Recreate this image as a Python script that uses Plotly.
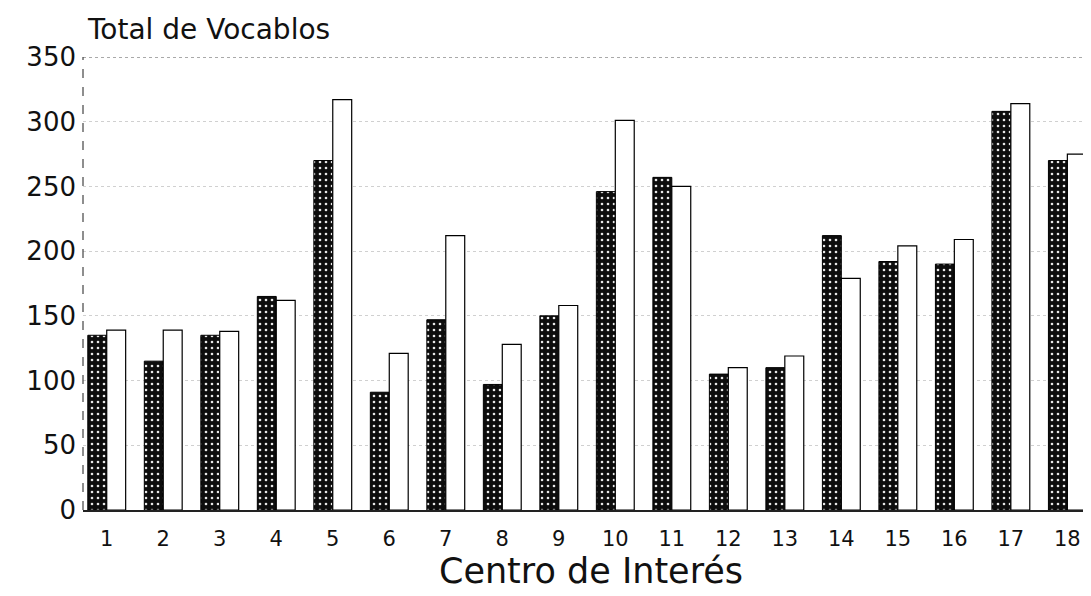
import plotly.graph_objects as go

categories = [str(i) for i in range(1, 19)]
serie_oscura = [135, 115, 135, 165, 270, 91, 147, 97, 150, 246, 257, 105, 110, 212, 192, 190, 308, 270]
serie_blanca = [139, 139, 138, 162, 317, 121, 212, 128, 158, 301, 250, 110, 119, 179, 204, 209, 314, 275]
y_ticks = [0, 50, 100, 150, 200, 250, 300, 350]
y_max = 350

FONT = "DejaVu Sans, Liberation Sans, sans-serif"

fig = go.Figure()
fig.add_trace(go.Bar(
    x=categories, y=serie_oscura, name="A",
    marker=dict(color="#0d0d0d", line=dict(color="#000000", width=1),
                pattern=dict(shape=".", fgcolor="#e8e8e8", bgcolor="#0d0d0d",
                             size=6, solidity=0.15, fillmode="replace")),
))
fig.add_trace(go.Bar(
    x=categories, y=serie_blanca, name="B",
    marker=dict(color="#ffffff", line=dict(color="#000000", width=1.2)),
))

fig.update_layout(
    width=1091, height=596,
    margin=dict(l=75, r=0, t=49, b=94),
    paper_bgcolor="white", plot_bgcolor="white",
    barmode="group", bargap=0.33, bargroupgap=0,
    showlegend=False,
    font=dict(family=FONT, color="#111111"),
    xaxis=dict(
        type="category", range=[-0.42, 17.56],
        showgrid=False, showline=True, linecolor="#222222", linewidth=1.5,
        ticks="", tickfont=dict(size=21, family=FONT, color="#111111"),
        ticklabelstandoff=9,
        title=dict(text="Centro de Interés", font=dict(size=35, family=FONT, color="#111111"),
                   standoff=0),
    ),
    yaxis=dict(
        range=[0, y_max], tickvals=y_ticks, ticktext=[str(v) for v in y_ticks],
        showgrid=True, gridcolor="#d0d0d0", griddash="dot", gridwidth=1,
        showline=False, zeroline=False, ticks="",
        tickfont=dict(size=26, family=FONT, color="#111111"),
        ticklabelstandoff=6,
    ),
    shapes=[
        dict(type="line", xref="paper", yref="y", x0=0, x1=1, y0=y_max, y1=y_max,
             line=dict(color="#555555", width=1.2, dash="dot")),
        dict(type="line", xref="paper", yref="paper", x0=0, x1=0, y0=0, y1=1,
             line=dict(color="#444444", width=1.2, dash="dash")),
    ],
    annotations=[
        dict(text="Total de Vocablos", xref="paper", yref="paper", x=0, y=1,
             xanchor="left", yanchor="bottom", xshift=2, yshift=9, showarrow=False,
             font=dict(size=28, family=FONT, color="#111111")),
    ],
)

fig.write_html("out.html")
